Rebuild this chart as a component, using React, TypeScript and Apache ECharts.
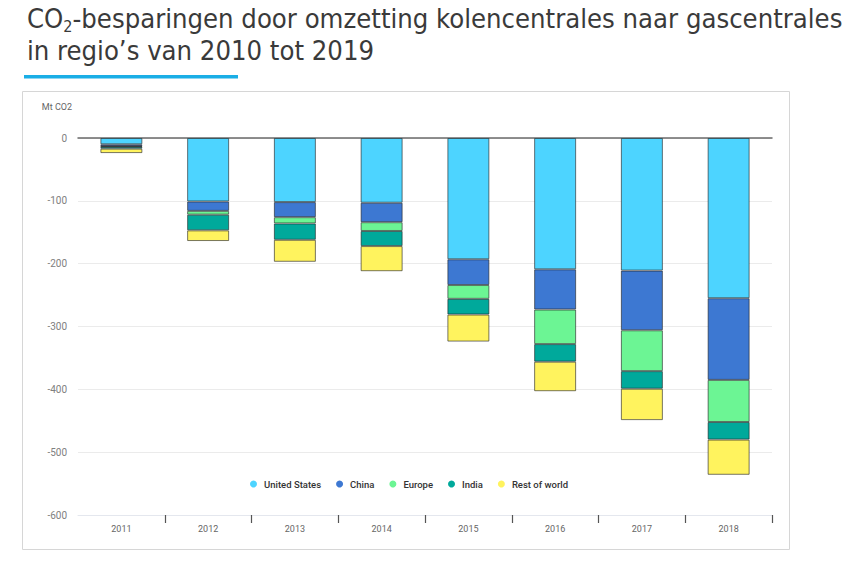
import React, { useEffect, useRef } from "react";
import * as echarts from "echarts";

const years = ["2011", "2012", "2013", "2014", "2015", "2016", "2017", "2018"];
const unitedStates = [-10, -101, -102, -103, -193, -209, -211, -255];
const china = [-3, -15, -24, -31, -41, -64, -95, -130];
const europe = [-1, -6, -10, -14, -22, -55, -65, -67];
const india = [-3, -25, -26, -24, -25, -28, -28, -28];
const restOfWorld = [-7, -17, -35, -40, -43, -47, -50, -56];
const seriesNames = ["United States", "China", "Europe", "India", "Rest of world"];
const seriesColors = ["#4dd4ff", "#3d78d2", "#6cf594", "#00a99b", "#fff35e"];
const yTicks = { min: -600, max: 0, interval: 100 };

const titleLine1 = "CO{s|2}-besparingen door omzetting kolencentrales naar gascentrales";
const titleLine2 = "in regio’s van 2010 tot 2019";

export default function App() {
  const ref = useRef<HTMLDivElement>(null);
  useEffect(() => {
    document.body.style.margin = "0";
    if (!ref.current) return;
    const chart = echarts.init(ref.current, null, { renderer: "svg" });
    const seriesData = [unitedStates, china, europe, india, restOfWorld];
    const chartFont = "Roboto";
    chart.setOption({
      animation: false,
      backgroundColor: "#ffffff",
      title: {
        text: titleLine1 + "\n" + titleLine2,
        left: 22,
        top: -3,
        textStyle: {
          fontFamily: "DejaVu Sans Condensed",
          fontSize: 27.2,
          fontWeight: "normal",
          color: "#3a3a3a",
          lineHeight: 32,
          rich: {
            s: {
              fontFamily: "DejaVu Sans Condensed",
              fontSize: 16,
              color: "#3a3a3a",
              lineHeight: 17,
              verticalAlign: "bottom",
            },
          },
        },
      },
      graphic: [
        {
          type: "rect",
          z: -10,
          shape: { x: 22.5, y: 91.5, width: 767, height: 458 },
          style: { fill: "#ffffff", stroke: "#d6d6d6", lineWidth: 1 },
          silent: true,
        },
        {
          type: "rect",
          shape: { x: 24, y: 75, width: 214, height: 3.5 },
          style: { fill: "#1aaee6" },
          silent: true,
        },
      ],
      legend: {
        data: seriesNames,
        left: 245,
        top: 474,
        icon: "circle",
        itemWidth: 7,
        itemHeight: 7,
        itemGap: 15,
        itemStyle: { borderWidth: 0 },
        textStyle: {
          fontFamily: chartFont,
          fontSize: 9.5,
          fontWeight: 500,
          color: "#333333",
          padding: [0, 0, 0, 2],
        },
      },
      grid: { left: 78, right: 73, top: 138, bottom: 53, containLabel: false },
      xAxis: [
        {
          type: "category",
          data: years,
          position: "bottom",
          axisLine: { show: true, onZero: false, lineStyle: { color: "#e4e7ee", width: 1 } },
          axisTick: {
            show: true,
            length: 8,
            interval: (index: number) => index !== 0,
            lineStyle: { color: "#555555", width: 1.2 },
          },
          axisLabel: { color: "#666666", fontSize: 9, fontFamily: chartFont, margin: 9 },
        },
        {
          type: "category",
          data: years,
          position: "top",
          axisLine: { show: true, lineStyle: { color: "#6a6a6a", width: 1.5 } },
          axisTick: { show: false },
          axisLabel: { show: false },
        },
      ],
      yAxis: {
        type: "value",
        min: yTicks.min,
        max: yTicks.max,
        interval: yTicks.interval,
        name: "Mt CO2",
        nameLocation: "end",
        nameGap: 27,
        nameTextStyle: {
          color: "#666666",
          fontSize: 9,
          fontFamily: chartFont,
          align: "right",
          padding: [0, 6, 0, 0],
        },
        axisLine: { show: false },
        axisTick: { show: false },
        axisLabel: { color: "#808080", fontSize: 10, fontFamily: chartFont, margin: 11 },
        splitLine: { show: true, lineStyle: { color: "#ebebeb", width: 1 } },
      },
      series: seriesNames.map((name, i) => ({
        name,
        type: "bar",
        stack: "total",
        xAxisIndex: 0,
        barWidth: 42,
        data: seriesData[i],
        itemStyle: {
          color: seriesColors[i],
          borderColor: "rgba(30,30,30,0.6)",
          borderWidth: 1,
        },
      })),
    });
    return () => chart.dispose();
  }, []);
  return <div ref={ref} style={{ width: 845, height: 568 }} />;
}
